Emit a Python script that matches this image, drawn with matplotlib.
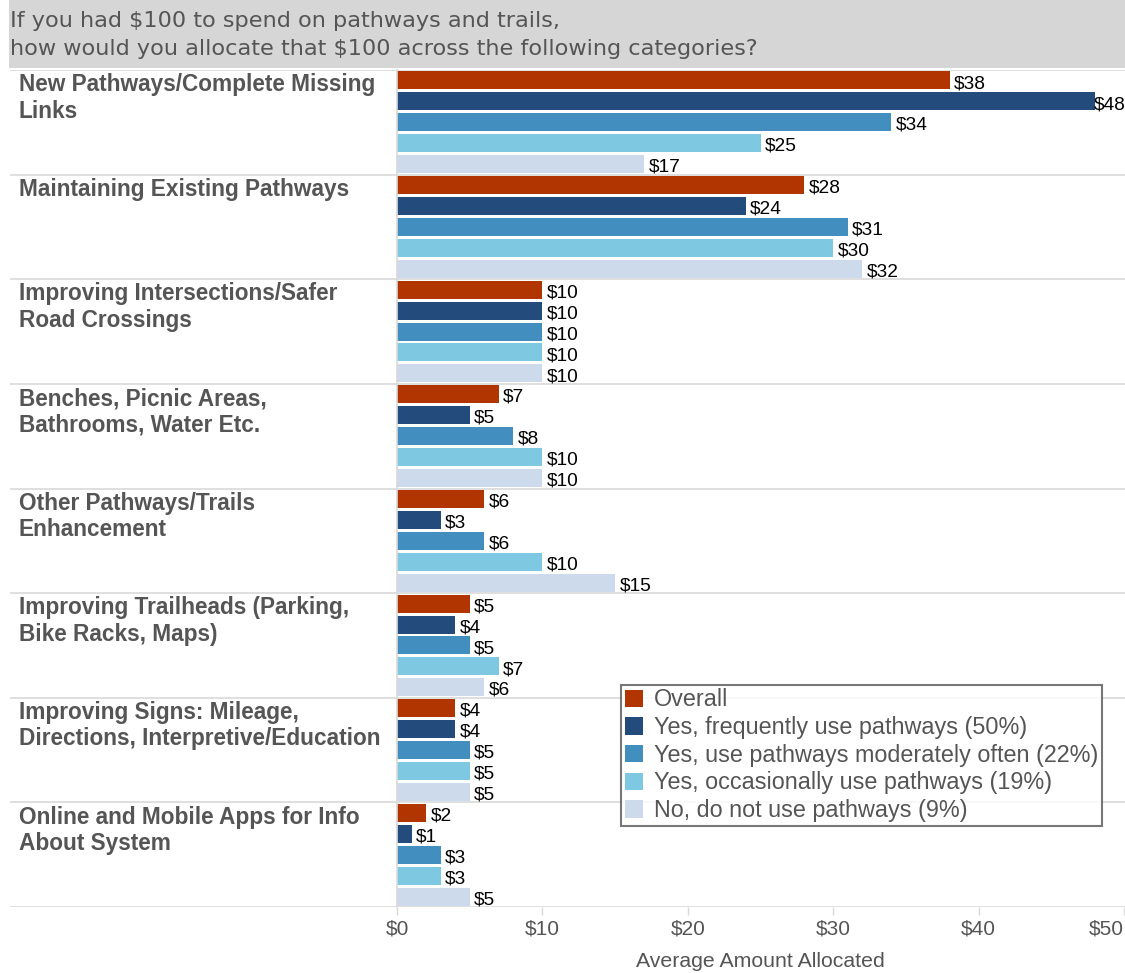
import matplotlib
matplotlib.use("Agg")
import matplotlib.pyplot as plt
from matplotlib.patches import Patch, Rectangle
from matplotlib.transforms import blended_transform_factory

# ---- data -------------------------------------------------------------
categories = [
    "New Pathways/Complete Missing\nLinks",
    "Maintaining Existing Pathways",
    "Improving Intersections/Safer\nRoad Crossings",
    "Benches, Picnic Areas,\nBathrooms, Water Etc.",
    "Other Pathways/Trails\nEnhancement",
    "Improving Trailheads (Parking,\nBike Racks, Maps)",
    "Improving Signs: Mileage,\nDirections, Interpretive/Education",
    "Online and Mobile Apps for Info\nAbout System",
]
series_names = [
    "Overall",
    "Yes, frequently use pathways (50%)",
    "Yes, use pathways moderately often (22%)",
    "Yes, occasionally use pathways (19%)",
    "No, do not use pathways (9%)",
]
overall = [38, 28, 10, 7, 6, 5, 4, 2]
frequent = [48, 24, 10, 5, 3, 4, 4, 1]
moderate = [34, 31, 10, 8, 6, 5, 5, 3]
occasional = [25, 30, 10, 10, 10, 7, 5, 3]
non_users = [17, 32, 10, 10, 15, 6, 5, 5]
series_values = [overall, frequent, moderate, occasional, non_users]
colors = ["#B13501", "#234B7C", "#418EBF", "#7EC8E1", "#CCDAEC"]
tick_values = [0, 10, 20, 30, 40, 50]
tick_labels = ["$0", "$10", "$20", "$30", "$40", "$50"]
subtitle = ("If you had $100 to spend on pathways and trails,\n"
            "how would you allocate that $100 across the following categories?")

# ---- figure layout (pixel based) -----------------------------------
W, H = 1125, 973
fig = plt.figure(figsize=(W / 100, H / 100), dpi=100)
fig.patch.set_facecolor("white")

def fx(px):
    return px / W

def fy(py):
    return 1 - py / H

plot_top, plot_bot = 70, 907
left_edge, axis_left, axis_right = 10, 397, 1124
n_series = len(series_values)
n_rows = len(categories)
ylim = (n_rows * n_series - 0.5, -0.5)

TEXT_GRAY = "#555555"
GRID = "#D9D9D9"

# header band with question text
fig.patches.append(Rectangle((fx(9), fy(68)), 1 - fx(9), fy(0) - fy(68),
                             transform=fig.transFigure, facecolor="#D6D6D6",
                             edgecolor="none", zorder=0))
fig.text(fx(10), fy(35), subtitle, fontsize=16.1, color=TEXT_GRAY,
         family="DejaVu Sans", va="center", ha="left", linespacing=1.45)

# background axes carrying the row separators across the full width
bg = fig.add_axes([fx(left_edge), fy(plot_bot), 1 - fx(left_edge),
                   fy(plot_top) - fy(plot_bot)])
bg.set_xlim(0, 1)
bg.set_ylim(*ylim)
bg.axis("off")
for i in range(n_rows + 1):
    bg.axhline(i * n_series - 0.5, color=GRID, lw=1.2, zorder=0)

# main bar axes
ax = fig.add_axes([fx(axis_left), fy(plot_bot), fx(axis_right) - fx(axis_left),
                   fy(plot_top) - fy(plot_bot)])
ax.set_facecolor("none")
ax.set_xlim(0, 50)
ax.set_ylim(*ylim)

for j, (vals, col) in enumerate(zip(series_values, colors)):
    ys = [i * n_series + j for i in range(n_rows)]
    ax.barh(ys, vals, height=0.86, color=col, edgecolor="none", zorder=2)
    for y, v in zip(ys, vals):
        x = min(v + 0.3, 47.95)
        ax.text(x, y + 0.15, f"${v}", va="center", ha="left", fontsize=13.8,
                family="Liberation Sans", color="black", zorder=3)

# category labels in the left column
trans = blended_transform_factory(fig.transFigure, ax.transData)
for i, cat in enumerate(categories):
    fig.text(fx(19), i * n_series - 0.5 + 0.15, cat, transform=trans,
             fontsize=16.3, fontweight="bold", family="Liberation Sans",
             color=TEXT_GRAY, va="top", ha="left", linespacing=1.2)

# axes styling
for side in ["top", "right", "bottom"]:
    ax.spines[side].set_visible(False)
ax.spines["left"].set_color(GRID)
ax.spines["left"].set_linewidth(1.2)
ax.set_yticks([])
ax.set_xticks(tick_values)
ax.set_xticklabels(tick_labels)
ax.tick_params(axis="x", length=6, width=1, color=GRID, colors=TEXT_GRAY,
               labelsize=15, pad=3)
ticklabels = ax.get_xticklabels()
for lbl in ticklabels:
    lbl.set_family("Liberation Sans")
    lbl.set_color(TEXT_GRAY)
ticklabels[-1].set_horizontalalignment("right")
ax.set_xlabel("Average Amount Allocated", fontsize=15.3, color=TEXT_GRAY,
              family="Liberation Sans", labelpad=10)

# legend
handles = [Patch(facecolor=c, edgecolor="none", label=n)
           for c, n in zip(colors, series_names)]
leg = fig.legend(handles=handles, loc="upper left",
                 bbox_to_anchor=(fx(621), fy(685)), bbox_transform=fig.transFigure,
                 frameon=True, fancybox=False, shadow=False,
                 prop={"family": "Liberation Sans", "size": 16.8},
                 handlelength=0.78, handleheight=0.78, handletextpad=0.5,
                 labelspacing=0.2, borderpad=0.15, borderaxespad=0)
leg.get_frame().set_edgecolor("#555555")
leg.get_frame().set_linewidth(1.5)
for t in leg.get_texts():
    t.set_color(TEXT_GRAY)

fig.savefig("out.png", dpi=100, facecolor="white")
